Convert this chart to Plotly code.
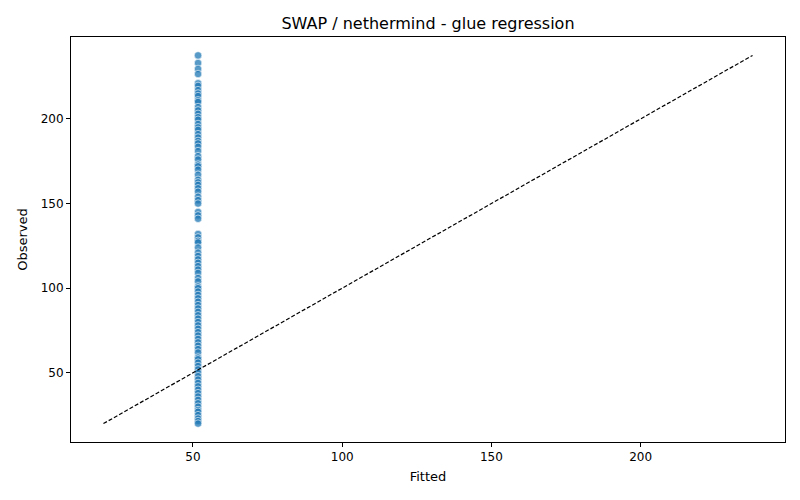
import plotly.graph_objects as go

observed = [
    237.5, 233, 229.5, 226.5, 221, 219.5, 217, 215, 213.5, 211, 210, 207,
    205, 203, 201, 199.5, 197, 195, 193.5, 191, 189, 187, 185.5, 183.5,
    181, 178, 176, 173, 172, 170, 167, 164, 162.5, 161, 159, 157, 154,
    152, 150, 145, 143, 141, 132, 130, 128, 127, 124, 121, 119, 117, 115,
    113, 111, 109, 106, 104, 101, 100, 98, 96, 94, 92, 90, 88, 86, 84, 82,
    80, 78, 76, 74, 72, 70, 68, 66, 64, 62, 59, 58, 56, 54, 52, 50, 48,
    46, 44, 42, 40, 38, 36, 34, 32, 30, 28, 27, 25, 23, 21.5, 20,
]
fitted_value = 51.7
fitted = [fitted_value] * len(observed)

x_ticks = [50, 100, 150, 200]
y_ticks = [50, 100, 150, 200]

lo = min(observed + fitted)
hi = max(observed + fitted)
pad = (hi - lo) * 0.05
rng = [lo - pad, hi + pad]

fig = go.Figure()
fig.add_trace(
    go.Scatter(
        x=fitted,
        y=observed,
        mode="markers",
        marker=dict(size=7.5, color="rgba(31,119,180,0.75)", line=dict(color="white", width=0.6)),
        showlegend=False,
    )
)
fig.add_trace(
    go.Scatter(
        x=[lo, hi],
        y=[lo, hi],
        mode="lines",
        line=dict(color="black", width=1.2, dash="4px,2px"),
        showlegend=False,
    )
)

axis_style = dict(
    showgrid=False,
    zeroline=False,
    showline=True,
    linecolor="black",
    linewidth=1,
    mirror=True,
    ticks="outside",
    ticklen=4,
    tickcolor="black",
    range=rng,
    automargin=False,
    tickfont=dict(size=12, color="black"),
)

# page body has an 8px margin, so shift the plot area up/left by that much
fig.update_layout(
    width=800,
    height=500,
    paper_bgcolor="white",
    plot_bgcolor="white",
    font=dict(family="DejaVu Sans", color="black"),
    margin=dict(l=63, r=23, t=29, b=66),
    title=dict(
        text="SWAP / nethermind - glue regression",
        x=(0.5 * (71 + 785) - 8) / 800,
        xanchor="center",
        y=1 - 15 / 500,
        yanchor="middle",
        font=dict(size=16, color="black"),
    ),
    xaxis=dict(axis_style, tickvals=x_ticks, title=dict(text="Fitted", font=dict(size=13), standoff=8)),
    yaxis=dict(axis_style, tickvals=y_ticks, title=dict(text="Observed", font=dict(size=13), standoff=10)),
)

fig.write_html("out.html")
